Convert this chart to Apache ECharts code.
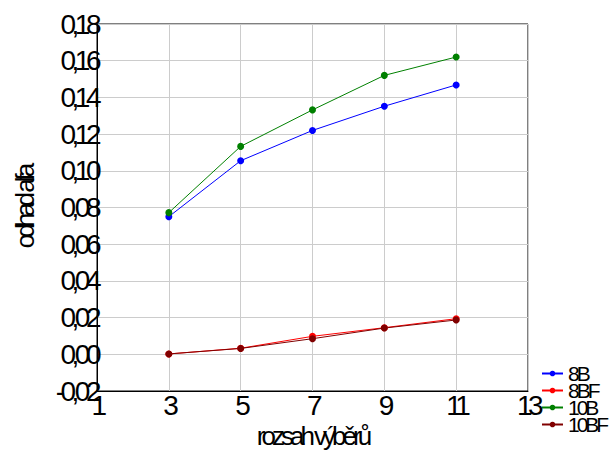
<!DOCTYPE html>
<html>
<head>
<meta charset="utf-8">
<script src="https://cdn.jsdelivr.net/npm/echarts@6/dist/echarts.min.js"></script>
<style>
html,body{margin:0;padding:0;background:#fff;}
#chart{width:612px;height:452px;}
#chart text[style*="28px"]{letter-spacing:-4.5px;}
#chart text[style*="26px"]{letter-spacing:-4px;}
#chart text[style*="21px"]{letter-spacing:-3px;}
</style>
</head>
<body>
<div id="chart"></div>
<script>
const xValues = [3, 5, 7, 9, 11];
const s8B   = [0.075, 0.1055, 0.122, 0.1352, 0.1468];
const s8BF  = [0.0002, 0.0033, 0.0098, 0.0145, 0.0194];
const s10B  = [0.0772, 0.1133, 0.1332, 0.152, 0.162];
const s10BF = [0.0002, 0.0032, 0.0085, 0.0143, 0.0187];
const seriesNames = ['8B', '8BF', '10B', '10BF'];
const seriesColors = ['#0000ff', '#ff0000', '#008000', '#800000'];
const allValues = [s8B, s8BF, s10B, s10BF];
const xTitle = 'rozsah výběrů';
const yTitle = 'odhad alfa';

const FONT = '"Liberation Sans", Arial, sans-serif';
const chart = echarts.init(document.getElementById('chart'), null, {renderer: 'svg'});
chart.setOption({
  animation: false,
  backgroundColor: '#ffffff',
  grid: {left: 97, top: 24, width: 431, height: 367, show: true, borderColor: '#000', borderWidth: 1,
    containLabel: false, outerBoundsMode: 'none'},
  xAxis: {
    type: 'value', min: 1, max: 13, interval: 2,
    name: xTitle, nameLocation: 'middle', nameGap: 32, nameMoveOverlap: false,
    nameTextStyle: {fontFamily: FONT, fontSize: 26, color: '#000'},
    axisLine: {show: true, onZero: false, lineStyle: {color: '#000', width: 1}},
    axisTick: {show: false},
    axisLabel: {margin: 0, fontFamily: FONT, fontSize: 28, color: '#000', showMinLabel: true, showMaxLabel: true},
    splitLine: {show: true, lineStyle: {color: '#cccccc', width: 1}}
  },
  yAxis: {
    type: 'value', min: -0.02, max: 0.18, interval: 0.02,
    name: yTitle, nameLocation: 'middle', nameGap: 59, nameRotate: 90, nameMoveOverlap: false,
    nameTextStyle: {fontFamily: FONT, fontSize: 26, color: '#000'},
    axisLine: {show: true, onZero: false, lineStyle: {color: '#000', width: 1}},
    axisTick: {show: false},
    axisLabel: {margin: 0, fontFamily: FONT, fontSize: 28, color: '#000', showMinLabel: true, showMaxLabel: true,
      padding: [0, 0, 11, 0],
      formatter: v => v.toFixed(2).replace('-0.00', '0.00').replace('.', ',')},
    splitLine: {show: true, lineStyle: {color: '#cccccc', width: 1}}
  },
  legend: {
    orient: 'vertical', left: 541, top: 363, height: 120, itemGap: -4, itemWidth: 21, itemHeight: 7,
    padding: 0,
    textStyle: {fontFamily: FONT, fontSize: 21, color: '#000', lineHeight: 16.3, padding: [0, 0, 0, 0]},
    data: seriesNames
  },
  series: seriesNames.map((n, i) => ({
    name: n, type: 'line', symbol: 'circle', symbolSize: 7,
    data: xValues.map((x, j) => [x, allValues[i][j]]),
    lineStyle: {color: seriesColors[i], width: 1},
    itemStyle: {color: seriesColors[i]}
  }))
});
</script>
</body>
</html>
